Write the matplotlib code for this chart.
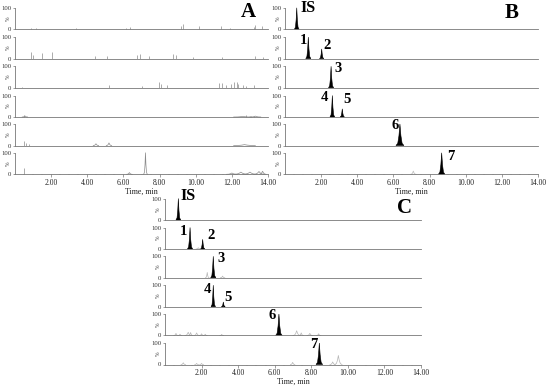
import numpy as np
import matplotlib
matplotlib.use('Agg')
import matplotlib.pyplot as plt

plt.rcParams['font.family'] = ['Liberation Serif', 'DejaVu Serif']

# ---- data (time in min, height in %) ----
# panel A: blank samples, noise spikes (t, h) per trace
A_SPIKES = [
    [(0.87, 6), (1.15, 6), (3.37, 7), (6.15, 8), (6.37, 10), (9.2, 15), (9.3, 25),
     (10.2, 16), (11.4, 14), (11.9, 8), (13.2, 10), (13.3, 18), (13.65, 15)],
    [(0.87, 32), (1.0, 15), (1.52, 27), (2.02, 32), (4.44, 12), (5.07, 12), (6.74, 15),
     (6.93, 20), (7.44, 10), (8.74, 22), (8.9, 15), (9.85, 8), (11.43, 8), (13.28, 12),
     (13.74, 8)],
    [(0.41, 4), (5.22, 15), (7.04, 8), (7.96, 25), (8.09, 20), (8.43, 15), (11.28, 22),
     (11.48, 22), (11.7, 14), (11.94, 20), (12.12, 25), (12.26, 28), (12.35, 20),
     (12.63, 12), (12.81, 10), (13.2, 12)],
    [(0.5, 8), (12.8, 8), (13.2, 5)],
    [(0.5, 23), (0.6, 12), (0.75, 6)],
    [(0.5, 30)],
]
# broad features in panel A (t, h, half width)
A_BUMPS = [
    [],
    [],
    [],
    [(0.55, 5, 0.15), (12.6, 3, 0.5), (13.3, 4, 0.3)],
    [(4.48, 8, 0.15), (5.2, 12, 0.15), (12.7, 4, 0.6)],
    [(6.33, 8, 0.15), (7.22, 100, 0.1), (12.0, 6, 0.3), (12.5, 10, 0.4),
     (13.0, 10, 0.4), (13.5, 13, 0.3), (13.7, 14, 0.2)],
]

# panel B: standards, main peaks (t, h, half width)
B_PEAKS = [
    [(0.65, 100, 0.13)],
    [(1.29, 100, 0.14), (2.03, 45, 0.12)],
    [(2.55, 100, 0.14)],
    [(2.62, 100, 0.13), (3.17, 38, 0.12)],
    [(6.36, 100, 0.22)],
    [(8.67, 100, 0.18)],
]
B_MINOR = [[], [], [], [], [], [(7.1, 15, 0.15)]]
B_LABELS = [
    [('IS', 0.87, 98, 'left')],
    [('1', 1.01, 83, 'center'), ('2', 2.31, 63, 'center')],
    [('3', 2.95, 91, 'center')],
    [('4', 2.18, 90, 'center'), ('5', 3.41, 82, 'center')],
    [('6', 6.09, 95, 'center')],
    [('7', 9.19, 82, 'center')],
]

# panel C: sample
C_PEAKS = [
    [(0.73, 100, 0.13)],
    [(1.37, 100, 0.14), (2.06, 45, 0.12)],
    [(2.64, 100, 0.14)],
    [(2.64, 100, 0.12), (3.19, 22, 0.1)],
    [(6.23, 100, 0.18)],
    [(8.44, 100, 0.18)],
]
C_MINOR = [
    [],
    [(1.82, 6, 0.12)],
    [(2.31, 25, 0.1), (3.15, 8, 0.12)],
    [],
    [(0.6, 10, 0.12), (0.82, 6, 0.1), (1.27, 15, 0.18), (1.4, 14, 0.12), (1.73, 12, 0.15),
     (2.0, 8, 0.12), (2.2, 6, 0.1), (3.1, 5, 0.1), (7.2, 22, 0.2), (7.45, 12, 0.12),
     (7.92, 10, 0.15), (8.4, 8, 0.12)],
    [(1.0, 8, 0.12), (1.73, 5, 0.1), (2.0, 5, 0.1), (6.98, 10, 0.12), (9.17, 12, 0.15),
     (9.48, 42, 0.2)],
]
C_LABELS = [
    [('IS', 0.87, 112, 'left')],
    [('1', 1.0, 80, 'center'), ('2', 2.52, 65, 'center')],
    [('3', 3.04, 91, 'center')],
    [('4', 2.31, 82, 'center'), ('5', 3.43, 44, 'center')],
    [('6', 5.87, 95, 'center')],
    [('7', 8.15, 91, 'center')],
]

X_TICKS = [2, 4, 6, 8, 10, 12, 14]

# peak outline template
PROFILE_X = np.array([-1.0, -0.55, -0.25, 0.0, 0.25, 0.55, 1.0])
PROFILE_Y = np.array([0.0, 0.1, 0.45, 1.0, 0.45, 0.1, 0.0])

W, H = 550, 386
fig = plt.figure(figsize=(5.5, 3.86), dpi=100)

PX_PER_UNIT = 0.215
YLO, YHI = -3, 130


def make_row(left, right, zero_y, last):
    h = (YHI - YLO) * PX_PER_UNIT
    ax = fig.add_axes([left / W, 1 - (zero_y + (-YLO) * PX_PER_UNIT) / H,
                       (right - left) / W, h / H])
    ax.patch.set_alpha(0)
    ax.set_xlim(0, 14)
    ax.set_ylim(YLO, YHI)
    for s in ['top', 'right']:
        ax.spines[s].set_visible(False)
    ax.spines['bottom'].set_position(('data', 0))
    ax.spines['left'].set_bounds(0, 100)
    for s in ['bottom', 'left']:
        ax.spines[s].set_color('#777777')
        ax.spines[s].set_linewidth(0.6)
    ax.set_yticks([0, 100])
    ax.set_yticklabels(['0', '100'])
    ax.tick_params(axis='y', labelsize=4.8, length=1.5, pad=1, width=0.4,
                   colors='#555555', labelcolor='#333333')
    ax.annotate('%', xy=(0, 50), xycoords=('axes fraction', 'data'), xytext=(-4.5, 0),
                textcoords='offset points', rotation=90, fontsize=4, color='#444444',
                ha='center', va='center')
    if last:
        ax.set_xticks(X_TICKS)
        ax.set_xticklabels(['%.2f' % t for t in X_TICKS])
        ax.set_xticks(np.arange(0, 14.01, 0.5), minor=True)
        ax.tick_params(axis='x', labelsize=5.5, length=2, pad=1.5, width=0.4,
                       colors='#555555', labelcolor='#222222')
        ax.tick_params(axis='x', which='minor', length=1, width=0.3, colors='#777777')
        ax.set_xlabel('Time, min', fontsize=5.8, labelpad=0.5, color='#222222')
    else:
        ax.set_xticks([])
    return ax


def draw_peak(ax, t, h, w, color, fill):
    x = t + w * PROFILE_X
    y = h * PROFILE_Y
    if fill:
        ax.fill(x, y, color=color, lw=0.4)
    else:
        ax.plot(x, y, color=color, lw=0.5)


A_ZERO = [29.3, 58.6, 87.8, 117.0, 145.5, 174.3]
C_ZERO = [220.0, 249.0, 277.8, 306.7, 335.5, 364.5]

# panel A
for i, z in enumerate(A_ZERO):
    ax = make_row(15, 268, z, i == 5)
    ts = [s[0] for s in A_SPIKES[i]]
    hs = [s[1] for s in A_SPIKES[i]]
    ax.vlines(ts, 0, hs, color='#8a8a8a', lw=0.5)
    for t, h, w in A_BUMPS[i]:
        draw_peak(ax, t, h, w, '#8a8a8a', False)

# panel B
for i, z in enumerate(A_ZERO):
    ax = make_row(285, 538, z, i == 5)
    for t, h, w in B_MINOR[i]:
        draw_peak(ax, t, h, w, '#bbbbbb', False)
    for t, h, w in B_PEAKS[i]:
        draw_peak(ax, t, h, w, 'black', True)
    for txt, t, y, ha in B_LABELS[i]:
        ax.text(t, y, txt, fontsize=11.5 if txt == 'IS' else 10.5, fontweight='bold',
                ha=ha, va='center')

# panel C
for i, z in enumerate(C_ZERO):
    ax = make_row(165, 421, z, i == 5)
    for t, h, w in C_MINOR[i]:
        draw_peak(ax, t, h, w, '#b5b5b5', False)
    for t, h, w in C_PEAKS[i]:
        draw_peak(ax, t, h, w, 'black', True)
    for txt, t, y, ha in C_LABELS[i]:
        ax.text(t, y, txt, fontsize=11.5 if txt == 'IS' else 10.5, fontweight='bold',
                ha=ha, va='center')

# panel letters
fig.text(248 / W, 1 - 12 / H, 'A', fontsize=15, fontweight='bold', ha='center', va='center')
fig.text(512 / W, 1 - 13 / H, 'B', fontsize=15, fontweight='bold', ha='center', va='center')
fig.text(405 / W, 1 - 208 / H, 'C', fontsize=15, fontweight='bold', ha='center', va='center')

fig.savefig('out.png', dpi=100)
